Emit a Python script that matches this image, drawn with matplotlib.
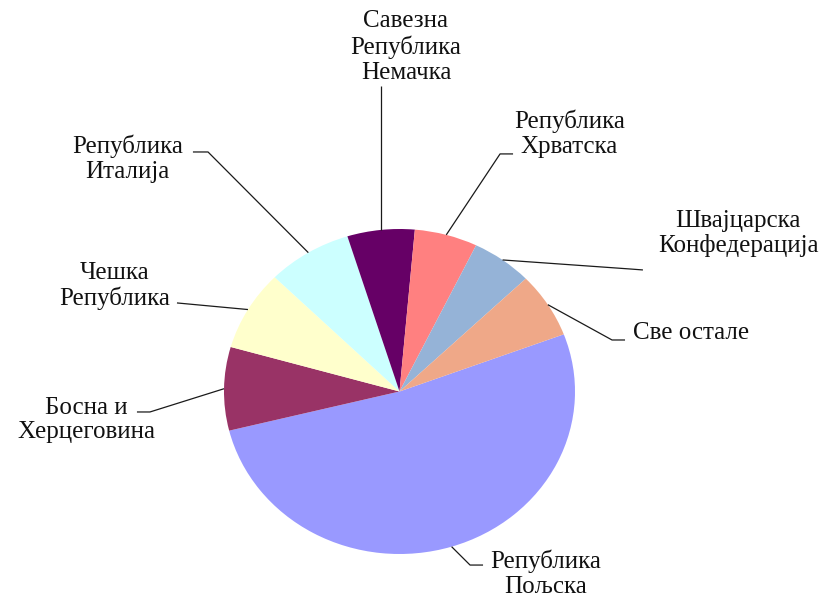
import matplotlib
matplotlib.use("Agg")
import matplotlib.pyplot as plt
import numpy as np

# Data (percent shares)
countries = ["Република\nПољска", "Босна и\nХерцеговина", "Чешка\nРепублика",
             "Република\nИталија", "Савезна\nРепублика\nНемачка", "Република\nХрватска",
             "Швајцарска\nКонфедерација", "Све остале"]
shares = [51.9, 8.3, 8.0, 7.8, 6.2, 5.8, 5.6, 6.5]
colors = ["#9999FF", "#993366", "#FFFFCC", "#CCFFFF", "#660066", "#FF8080",
          "#95B3D7", "#EFA888"]

# label placement (data coords, unit pie) : text centre, elbow, end of leader
label_pos = [(0.835, -1.12), (-1.786, -0.175), (-1.624, 0.649), (-1.55, 1.431),
             (0.037, 2.12), (0.968, 1.588), (1.929, 0.972), (1.328, 0.36)]
elbow = [(0.402, -1.068), (-1.422, -0.126), (-1.268, 0.545), (-1.091, 1.474),
         (None, 1.88), (0.573, 1.462), (1.313, 0.754), (1.211, 0.317)]
tail = [(0.476, -1.068), (-1.496, -0.126), None, (-1.177, 1.474),
        None, (0.647, 1.462), (1.387, 0.748), (1.285, 0.317)]
ha = ["center"] * 8
ha[7] = "left"

plt.rcParams['font.family'] = ['Liberation Serif', 'DejaVu Serif']

W, H = 826, 596
fig = plt.figure(figsize=(W / 100, H / 100), dpi=100)
cx, cy, rx, ry = 399.5, 391.5, 175.5, 162.5
ax = fig.add_axes([(cx - rx) / W, (H - cy - ry) / H, 2 * rx / W, 2 * ry / H])

wedges, _ = ax.pie(shares, colors=colors, startangle=20.6, counterclock=False,
                   radius=1.0, wedgeprops=dict(linewidth=0))
ax.set_aspect('auto')
ax.set_xlim(-1, 1)
ax.set_ylim(-1, 1)
ax.axis('off')

for i, w in enumerate(wedges):
    mid = np.deg2rad((w.theta1 + w.theta2) / 2)
    x0, y0 = np.cos(mid), np.sin(mid)
    ex, ey = elbow[i]
    if ex is None:
        ex = x0
    xs, ys = [x0, ex], [y0, ey]
    if tail[i] is not None:
        xs.append(tail[i][0]); ys.append(tail[i][1])
    ax.plot(xs, ys, color="#1a1a1a", lw=0.9, clip_on=False, solid_capstyle='butt')
    tx, ty = label_pos[i]
    ax.text(tx, ty, countries[i], ha=ha[i], va='center', ma='center',
            fontsize=18, color='#111111', clip_on=False, linespacing=1.16)

fig.savefig("out.png", dpi=100)
